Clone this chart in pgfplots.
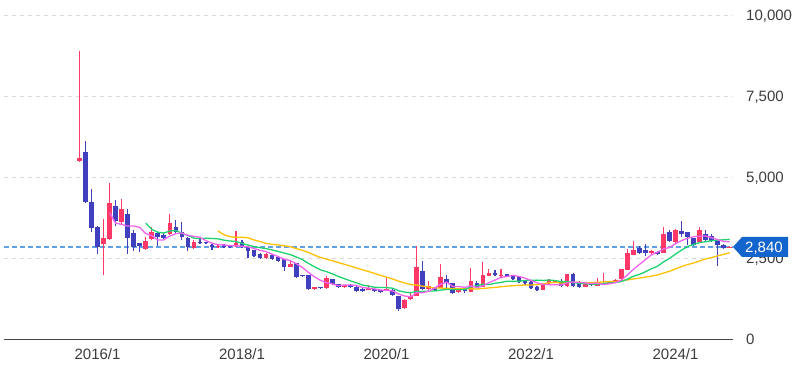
\documentclass[border=0pt]{standalone}
\usepackage{fontspec}
\setmainfont{Liberation Sans}
\usepackage{pgfplots}
\usepackage{pgfplotstable}
\pgfplotsset{compat=1.18}
\definecolor{upc}{RGB}{255,56,104}
\definecolor{dnc}{RGB}{64,64,190}
\definecolor{maA}{RGB}{240,100,240}
\definecolor{maB}{RGB}{30,210,110}
\definecolor{maC}{RGB}{255,192,0}
\definecolor{gridc}{RGB}{218,218,218}
\definecolor{labc}{RGB}{60,60,60}
\definecolor{axc}{RGB}{70,70,70}
\definecolor{pdash}{RGB}{100,160,230}
\definecolor{pbox}{RGB}{20,100,205}

\pgfplotstableread{
x o h l c
0 5500 8900 5450 5600
4 2930 3700 1970 3110
5 3090 4820 3050 4190
7 3600 4310 3560 4000
11 2770 3140 2750 3030
12 3080 3470 3050 3310
15 3230 3860 3200 3570
19 2800 3060 2780 3000
23 2830 2890 2810 2870
26 2870 3340 2850 2950
31 2490 2640 2480 2620
35 2230 2410 2220 2310
39 1530 1620 1520 1600
41 1560 1940 1550 1870
44 1600 1680 1580 1660
48 1510 1670 1500 1560
51 1490 1900 1480 1550
54 950 1250 920 1200
55 1230 1420 1200 1340
56 1340 2870 1330 2230
58 1540 1800 1520 1630
60 1580 2320 1560 1900
63 1440 1530 1420 1510
65 1460 2180 1450 1800
67 1600 2390 1590 1980
68 1950 2170 1940 2050
70 1930 2150 1920 1980
77 1520 1700 1500 1680
78 1720 1840 1700 1790
79 1740 1800 1720 1780
81 1640 2010 1620 2000
84 1600 1750 1590 1700
86 1650 1870 1640 1720
87 1680 2040 1660 1740
88 1720 1800 1700 1780
89 1770 1860 1760 1830
90 1840 2160 1830 2150
91 2130 2780 2120 2640
92 2600 3020 2580 2750
95 2650 2740 2630 2720
97 2650 3470 2640 3250
99 2980 3380 2950 3360
103 3000 3450 2980 3350
108 2815 2880 2800 2845
}\up

\pgfplotstableread{
x o h l c
1 5760 6110 4200 4240
2 4240 4630 3310 3420
3 3460 3500 2610 2850
6 4120 4290 3490 3650
8 3860 4010 2610 3110
9 3260 3360 2720 2850
10 2950 2970 2690 2870
13 3280 3300 2870 3160
14 3210 3260 3100 3130
16 3450 3670 3290 3310
17 3310 3620 3050 3160
18 3130 3150 2720 2850
20 3000 3140 2940 2950
21 2980 3000 2920 2950
22 2900 2920 2750 2830
24 2900 2920 2810 2830
25 2880 2900 2820 2840
27 3000 3070 2830 2850
28 2850 2860 2490 2720
29 2750 2760 2540 2560
30 2620 2640 2470 2490
32 2590 2610 2440 2460
33 2540 2560 2390 2410
34 2460 2470 2110 2230
36 2340 2350 1900 1920
37 1975 1990 1930 1945
38 1975 1990 1510 1530
40 1600 1620 1560 1570
42 1840 1860 1680 1690
43 1690 1700 1600 1610
45 1670 1690 1600 1610
46 1610 1630 1470 1480
47 1540 1560 1470 1490
49 1530 1550 1480 1490
50 1510 1520 1430 1450
52 1510 1530 1340 1360
53 1330 1340 870 920
57 2090 2420 1520 1530
59 1600 1620 1500 1520
61 1840 1975 1570 1720
62 1720 1740 1400 1430
64 1530 1550 1420 1470
66 1740 1800 1600 1620
69 2050 2130 1970 1980
71 2000 2020 1940 1950
72 1940 1960 1830 1850
73 1900 1910 1750 1770
74 1780 1800 1660 1740
75 1760 1780 1540 1560
76 1600 1640 1490 1520
80 1760 1850 1600 1640
82 2020 2040 1630 1650
83 1770 1780 1600 1620
85 1700 1720 1640 1660
93 2810 2870 2630 2660
94 2750 2940 2570 2660
96 2700 2720 2600 2630
98 3300 3350 3000 3030
100 3340 3650 3150 3240
101 3290 3300 2900 3150
102 3110 3130 2890 2910
104 3240 3360 3050 3070
105 3180 3250 3000 3040
106 3020 3050 2260 2890
107 2910 2930 2790 2810
}\down

\begin{document}
\begin{tikzpicture}
\begin{axis}[
  scale only axis, width=729pt, height=324pt,
  xmin=-12.54, xmax=108.55, ymin=0, ymax=10000,
  axis line style={draw=none},
  major tick length=0pt,
  scaled y ticks=false, scaled x ticks=false,
  xtick={3,27,51,75,99},
  xticklabels={2016/1,2018/1,2020/1,2022/1,2024/1},
  ytick={0,2500,5000,7500,10000},
  yticklabels={0,{2,500},{5,000},{7,500},{10,000}},
  yticklabel pos=right,
  ymajorgrids,
  grid style={gridc, line width=1pt, dash pattern=on 4pt off 4pt},
  tick label style={font=\fontsize{15}{18}\selectfont, text=labc, inner sep=0pt},
  xticklabel style={anchor=base, yshift=-20.2pt},
  yticklabel style={anchor=base west, xshift=13pt, yshift=-5.3pt},
  clip=false,
]
\draw[axc, line width=1pt] (rel axis cs:0,0) -- (rel axis cs:1,0);
\addplot[pdash, line width=1.3pt, dash pattern=on 5pt off 3pt, forget plot] coordinates {(-12.54,2840) (108.55,2840)};

% wicks
\addplot[draw=none, mark=none, forget plot, error bars/.cd, y dir=both, y explicit, error mark=none,
  error bar style={line width=1.2pt, draw=upc}]
  table[x=x, y=c, y error plus expr=\thisrow{h}-\thisrow{c}, y error minus expr=\thisrow{c}-\thisrow{l}] {\up};
\addplot[draw=none, mark=none, forget plot, error bars/.cd, y dir=both, y explicit, error mark=none,
  error bar style={line width=1.2pt, draw=dnc}]
  table[x=x, y=c, y error plus expr=\thisrow{h}-\thisrow{c}, y error minus expr=\thisrow{c}-\thisrow{l}] {\down};
% bodies
\addplot[draw=none, mark=none, forget plot, error bars/.cd, y dir=minus, y explicit, error mark=none,
  error bar style={line width=4.6pt, draw=upc}]
  table[x=x, y=c, y error minus expr=\thisrow{c}-\thisrow{o}] {\up};
\addplot[draw=none, mark=none, forget plot, error bars/.cd, y dir=plus, y explicit, error mark=none,
  error bar style={line width=4.6pt, draw=dnc}]
  table[x=x, y=c, y error plus expr=\thisrow{o}-\thisrow{c}] {\down};

% 24-month moving average
\addplot[maC, line width=1.3pt, mark=none] coordinates {
(23,3334)(24,3218)(25,3160)(26,3140)(27,3140)(28,3124)(29,3056)(30,3008)(31,2950)(32,2923)
(33,2905)(34,2878)(35,2848)(36,2790)(37,2740)(38,2673)(39,2591)(40,2519)(41,2465)(42,2417)
(43,2359)(44,2305)(45,2249)(46,2193)(47,2136)(48,2083)(49,2026)(50,1964)(51,1910)(52,1853)
(53,1785)(54,1731)(55,1678)(56,1668)(57,1631)(58,1606)(59,1574)(60,1573)(61,1563)(62,1559)
(63,1555)(64,1551)(65,1548)(66,1545)(67,1560)(68,1577)(69,1592)(70,1613)(71,1632)(72,1644)
(73,1656)(74,1668)(75,1668)(76,1675)(77,1707)(78,1731)(79,1750)(80,1725)(81,1745)(82,1745)
(83,1750)(84,1741)(85,1739)(86,1751)(87,1760)(88,1773)(89,1775)(90,1797)(91,1824)(92,1853)
(93,1882)(94,1910)(95,1942)(96,1975)(97,2036)(98,2090)(99,2165)(100,2237)(101,2298)(102,2345)
(103,2410)(104,2470)(105,2513)(106,2565)(107,2614)(108,2662)};
% 12-month moving average
\addplot[maB, line width=1.3pt, mark=none] coordinates {
(11,3577)(12,3386)(13,3296)(14,3272)(15,3332)(16,3348)(17,3263)(18,3196)(19,3113)(20,3099)
(21,3108)(22,3104)(23,3091)(24,3051)(25,3024)(26,3009)(27,2949)(28,2900)(29,2850)(30,2820)
(31,2788)(32,2748)(33,2703)(34,2653)(35,2606)(36,2530)(37,2455)(38,2337)(39,2233)(40,2137)
(41,2080)(42,2013)(43,1929)(44,1862)(45,1795)(46,1733)(47,1665)(48,1635)(49,1597)(50,1590)
(51,1586)(52,1568)(53,1489)(54,1448)(55,1426)(56,1473)(57,1467)(58,1479)(59,1482)(60,1510)
(61,1529)(62,1528)(63,1524)(64,1533)(65,1607)(66,1642)(67,1695)(68,1680)(69,1718)(70,1747)
(71,1783)(72,1778)(73,1783)(74,1808)(75,1813)(76,1817)(77,1807)(78,1821)(79,1804)(80,1770)
(81,1772)(82,1744)(83,1717)(84,1704)(85,1695)(86,1693)(87,1708)(88,1730)(89,1743)(90,1773)
(91,1844)(92,1937)(93,1992)(94,2076)(95,2168)(96,2245)(97,2378)(98,2487)(99,2622)(100,2743)
(101,2853)(102,2917)(103,2976)(104,3003)(105,3034)(106,3053)(107,3061)(108,3078)};
% 6-month moving average
\addplot[maA, line width=1.3pt, mark=none] coordinates {
(5,3902)(6,3577)(7,3537)(8,3485)(9,3485)(10,3445)(11,3252)(12,3195)(13,3055)(14,3058)
(15,3178)(16,3252)(17,3273)(18,3197)(19,3170)(20,3140)(21,3037)(22,2957)(23,2908)(24,2905)
(25,2878)(26,2878)(27,2862)(28,2843)(29,2792)(30,2735)(31,2698)(32,2617)(33,2543)(34,2462)
(35,2420)(36,2325)(37,2213)(38,2058)(39,1923)(40,1813)(41,1739)(42,1701)(43,1645)(44,1667)
(45,1668)(46,1653)(47,1590)(48,1568)(49,1548)(50,1513)(51,1503)(52,1483)(53,1388)(54,1328)
(55,1303)(56,1433)(57,1430)(58,1475)(59,1575)(60,1692)(61,1755)(62,1622)(63,1618)(64,1592)
(65,1638)(66,1592)(67,1635)(68,1738)(69,1817)(70,1902)(71,1927)(72,1965)(73,1930)(74,1878)
(75,1808)(76,1732)(77,1687)(78,1677)(79,1678)(80,1662)(81,1735)(82,1757)(83,1747)(84,1732)
(85,1712)(86,1725)(87,1682)(88,1703)(89,1738)(90,1813)(91,1977)(92,2148)(93,2302)(94,2448)
(95,2597)(96,2677)(97,2778)(98,2825)(99,2942)(100,3038)(101,3110)(102,3157)(103,3173)(104,3180)
(105,3127)(106,3068)(107,3012)(108,3001)};
\coordinate (pl) at (axis cs:108.55,2840);
\end{axis}
\fill[pbox] (pl) -- ++(9pt,10pt) -- ++(46pt,0) -- ++(0,-20pt) -- ++(-46pt,0) -- cycle;
\node[anchor=base west, inner sep=0pt, text=white, font=\fontsize{15}{18}\selectfont] at ([xshift=12pt,yshift=-5.3pt]pl) {2,840};
\pgfresetboundingbox
\path[use as bounding box] (-4pt,-26pt) rectangle (788pt,339pt);
\end{tikzpicture}
\end{document}
